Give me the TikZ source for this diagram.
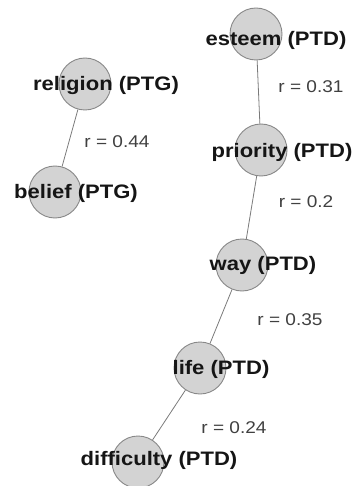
\documentclass[tikz,border=0pt]{standalone}
\usepackage{fontspec}
\setmainfont{Liberation Sans}
\usetikzlibrary{backgrounds}
\definecolor{cfill}{HTML}{D3D3D3}
\definecolor{cline}{HTML}{888888}
\definecolor{eline}{HTML}{7A7A7A}
\definecolor{rtext}{HTML}{404040}
\definecolor{ntext}{HTML}{151515}
\tikzset{
  term/.style={circle, draw=cline, fill=cfill, line width=0.9pt, minimum size=52pt, inner sep=0pt},
  termlabel/.style={inner sep=0pt, text=ntext, font=\fontsize{19.5}{21}\selectfont\bfseries, xscale=1.13},
  rlabel/.style={inner sep=0pt, text=rtext, font=\fontsize{17}{18}\selectfont, xscale=1.12},
  link/.style={draw=eline, line width=0.8pt}
}
\begin{document}
\begin{tikzpicture}[x=1pt,y=-1pt]
\useasboundingbox (0,0) rectangle (355,486);
% circles
\node[term] (esteem) at (256,34) {};
\node[term] (religion) at (85,84) {};
\node[term] (belief) at (55,192) {};
\node[term] (priority) at (261,150) {};
\node[term] (way) at (242,265) {};
\node[term] (life) at (200,368) {};
\node[term] (difficulty) at (138,462) {};
% connectors
\begin{scope}[on background layer]
\draw[link] (religion) -- (belief);
\draw[link] (esteem) -- (priority);
\draw[link] (priority) -- (way);
\draw[link] (way) -- (life);
\draw[link] (life) -- (difficulty);
\end{scope}
% term labels
\node[termlabel] (testeem) at (276,40) {esteem (PTD)};
\node[termlabel] (treligion) at (106,86) {religion (PTG)};
\node[termlabel] (tbelief) at (76,193) {belief (PTG)};
\node[termlabel] (tpriority) at (282,152) {priority (PTD)};
\node[termlabel] (tway) at (263,265) {way (PTD)};
\node[termlabel] (tlife) at (221,369) {life (PTD)};
\node[termlabel] (tdifficulty) at (159,460) {difficulty (PTD)};
% correlation labels
\node[rlabel] (r1) at (311,87) {r = 0.31};
\node[rlabel] (r2) at (117,142) {r = 0.44};
\node[rlabel] (r3) at (306,202) {r = 0.2};
\node[rlabel] (r4) at (290,320) {r = 0.35};
\node[rlabel] (r5) at (234,428) {r = 0.24};
\end{tikzpicture}
\end{document}
